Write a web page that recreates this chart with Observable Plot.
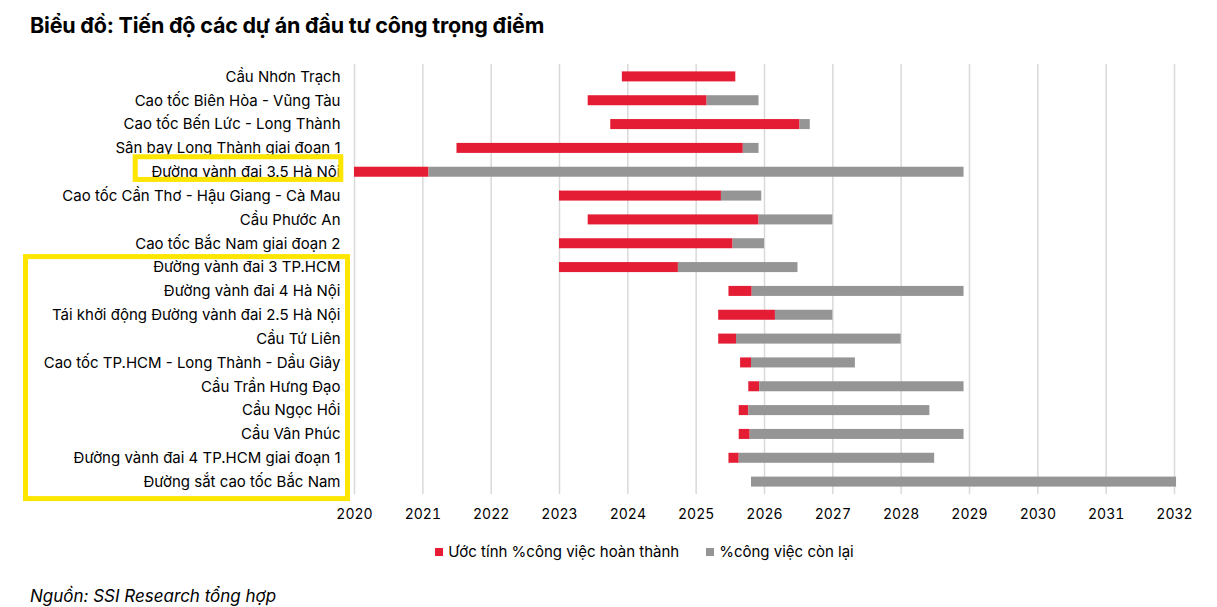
<!DOCTYPE html>
<html>
<head>
<meta charset="utf-8">
<script src="https://cdn.jsdelivr.net/npm/d3@7"></script>
<script src="https://cdn.jsdelivr.net/npm/@observablehq/plot@0.6"></script>
<style>
  html, body { margin: 0; padding: 0; background: #fff; }
  #wrap { position: relative; width: 1217px; height: 607px; overflow: hidden; font-family: Inter, "Noto Sans", sans-serif; color: #000; }
  #title { position: absolute; left: 30px; top: 12px; font-size: 21.5px; font-weight: 700; letter-spacing: -0.2px; }
  #chart { position: absolute; left: 0; top: 62px; }
  #legend { position: absolute; left: 0; width: 1217px; top: 542px; display: flex; justify-content: center; gap: 27px; font-size: 15px; padding-left: 72px; box-sizing: border-box; }
  #legend span.item { display: inline-flex; align-items: center; }
  #legend span.sw { display: inline-block; width: 8px; height: 8px; margin-right: 5px; }
  #source { position: absolute; left: 30px; top: 586px; font-size: 17px; font-style: italic; }
</style>
</head>
<body>
<div id="wrap">
  <div id="title">Biểu đồ: Tiến độ các dự án đầu tư công trọng điểm</div>
  <div id="chart"></div>
  <div id="legend"></div>
  <div id="source">Nguồn: SSI Research tổng hợp</div>
</div>
<script>
const projects = [
  "Cầu Nhơn Trạch",
  "Cao tốc Biên Hòa - Vũng Tàu",
  "Cao tốc Bến Lức - Long Thành",
  "Sân bay Long Thành giai đoạn 1",
  "Đường vành đai 3.5 Hà Nội",
  "Cao tốc Cần Thơ - Hậu Giang - Cà Mau",
  "Cầu Phước An",
  "Cao tốc Bắc Nam giai đoạn 2",
  "Đường vành đai 3 TP.HCM",
  "Đường vành đai 4 Hà Nội",
  "Tái khởi động Đường vành đai 2.5 Hà Nội",
  "Cầu Tứ Liên",
  "Cao tốc TP.HCM - Long Thành - Dầu Giây",
  "Cầu Trần Hưng Đạo",
  "Cầu Ngọc Hồi",
  "Cầu Vân Phúc",
  "Đường vành đai 4 TP.HCM giai đoạn 1",
  "Đường sắt cao tốc Bắc Nam"
];
// start year, end of estimated completed work, planned end year
const startYear = [2023.92, 2023.42, 2023.75, 2021.50, 2020.00, 2023.00, 2023.42, 2023.00, 2023.00, 2025.48, 2025.33, 2025.33, 2025.65, 2025.77, 2025.63, 2025.63, 2025.48, 2025.81];
const doneYear  = [2025.58, 2025.16, 2026.52, 2025.69, 2021.09, 2025.37, 2025.92, 2025.54, 2024.74, 2025.82, 2026.16, 2025.59, 2025.81, 2025.93, 2025.77, 2025.79, 2025.63, 2025.81];
const endYear   = [2025.58, 2025.92, 2026.67, 2025.92, 2028.92, 2025.96, 2027.00, 2026.00, 2026.49, 2028.92, 2027.00, 2028.00, 2027.33, 2028.92, 2028.42, 2028.92, 2028.49, 2032.03];
const yearTicks = [2020, 2021, 2022, 2023, 2024, 2025, 2026, 2027, 2028, 2029, 2030, 2031, 2032];
const seriesNames = ["Ước tính %công việc hoàn thành", "%công việc còn lại"];
const seriesColors = ["#e41d35", "#959595"];

const rows = projects.map((p, i) => ({ project: p, start: startYear[i], done: doneYear[i], end: endYear[i] }));

const chart = Plot.plot({
  width: 1217,
  height: 462,
  marginTop: 2,
  marginBottom: 30,
  marginLeft: 354,
  marginRight: 43,
  style: { fontFamily: "Inter, 'Noto Sans', sans-serif", fontSize: "14px", color: "#000", background: "#fff", overflow: "visible" },
  x: { domain: [2020, 2032], ticks: yearTicks, tickFormat: d => String(d), tickSize: 0, tickPadding: 15, label: null, line: false },
  y: { domain: projects, paddingInner: 0.58, paddingOuter: 0.31, round: false, tickSize: 0, tickPadding: 14, label: null },
  marks: [
    Plot.ruleX(yearTicks, { x: d => d, stroke: "#d9d9d9", strokeWidth: 1.5 }),
    Plot.barX(rows, { y: "project", x1: "start", x2: "done", fill: seriesColors[0] }),
    Plot.barX(rows.filter(r => r.end > r.done), { y: "project", x1: "done", x2: "end", fill: seriesColors[1] }),
    Plot.axisX({ ticks: yearTicks, tickFormat: d => String(d), tickSize: 0, tickPadding: 15, fontSize: 14, label: null }),
    Plot.axisY({ tickSize: 0, tickPadding: 14, fontSize: 15, label: null })
  ]
});
document.getElementById("chart").appendChild(chart);

// yellow highlight boxes around label groups
const ys = chart.scale("y");
const bw = ys.bandwidth;
const center = name => ys.apply(name) + bw / 2;
const svg = d3.select(chart);
const hl = svg.append("g").attr("fill", "none").attr("stroke", "#ffe600").attr("stroke-width", 5);
const c5 = center(projects[4]);
hl.append("rect").attr("x", 135.2).attr("y", c5 - 15).attr("width", 205.6).attr("height", 22.7);
const c9 = center(projects[8]);
const c18 = center(projects[17]);
hl.append("rect").attr("x", 25.5).attr("y", c9 - 10.5).attr("width", 322).attr("height", c18 - c9 + 27.5);

// legend
const lg = document.getElementById("legend");
seriesNames.forEach((n, i) => {
  const it = document.createElement("span");
  it.className = "item";
  it.innerHTML = `<span class="sw" style="background:${seriesColors[i]}"></span>${n}`;
  lg.appendChild(it);
});
</script>
</body>
</html>
